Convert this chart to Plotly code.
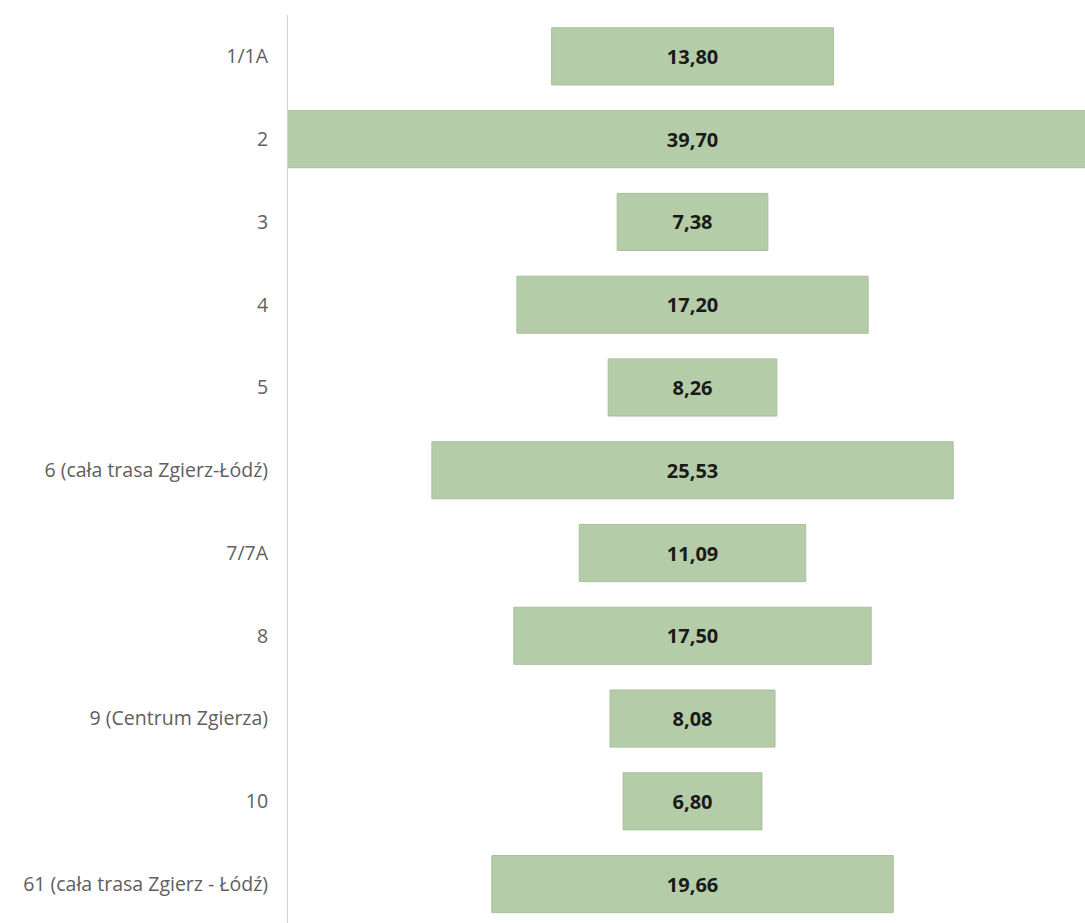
import plotly.graph_objects as go

categories = ["1/1A", "2", "3", "4", "5", "6 (cała trasa Zgierz-Łódź)", "7/7A", "8",
              "9 (Centrum Zgierza)", "10", "61 (cała trasa Zgierz - Łódź)"]
values = [13.80, 39.70, 7.38, 17.20, 8.26, 25.53, 11.09, 17.50, 8.08, 6.80, 19.66]

fig = go.Figure(go.Funnel(
    y=categories,
    x=values,
    texttemplate="%{x:.2f}",
    textposition="inside",
    insidetextanchor="middle",
    textfont=dict(family="Open Sans", size=20, color="#1a1a1a", weight="bold"),
    marker=dict(color="rgb(181,204,168)", line=dict(color="rgb(168,192,154)", width=1)),
    connector=dict(visible=False),
    hoverinfo="skip",
))

fig.update_layout(
    width=1085, height=923,
    margin=dict(l=288, r=0, t=15, b=0),
    paper_bgcolor="white", plot_bgcolor="white",
    separators=", ",
    funnelgap=0.31,
    showlegend=False,
    xaxis=dict(visible=False, range=[-19.81, 19.22], fixedrange=True),
    yaxis=dict(
        range=[10.47, -0.5], autorange=False,
        showline=True, linecolor="#d4d4d4", linewidth=1,
        showgrid=False, zeroline=False, ticks="",
        ticklabelstandoff=15,
        tickfont=dict(family="Open Sans", size=19.5, color="#606060"),
    ),
)

fig.write_html("out.html")
